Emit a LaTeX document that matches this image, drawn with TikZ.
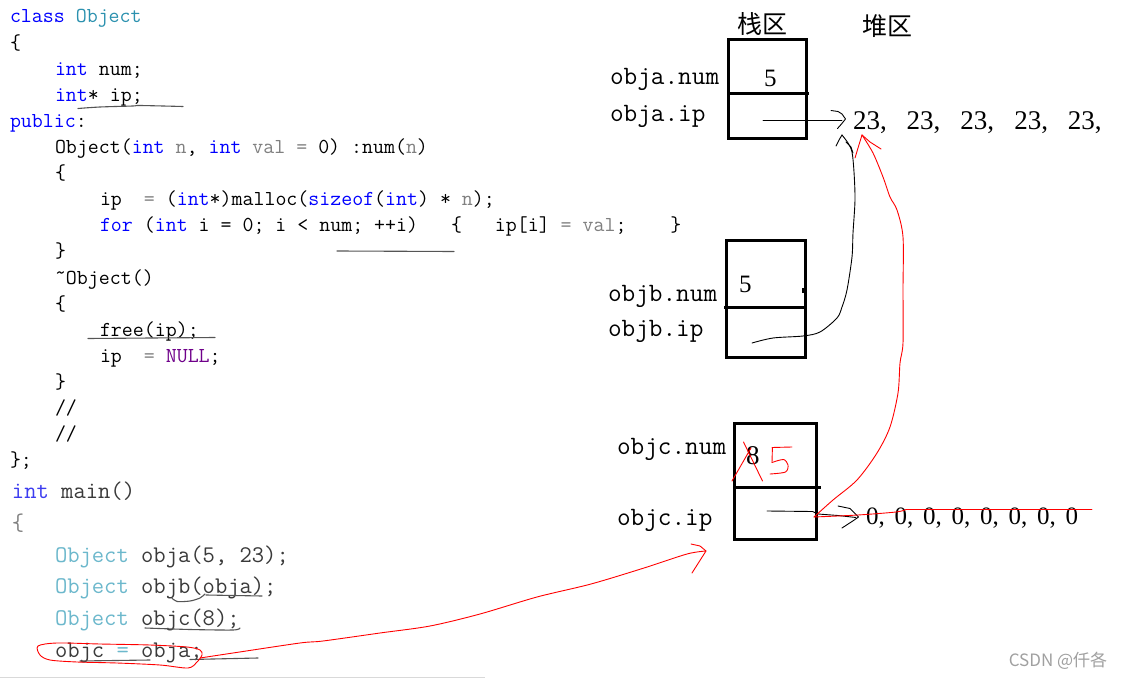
\documentclass[tikz,border=0pt]{standalone}
\usepackage{fontspec}
\newfontfamily\cjk{Noto Sans CJK SC}
\newfontfamily\numfont{Liberation Serif}
\definecolor{ckwc}{HTML}{0000FF}
\definecolor{ctyc}{HTML}{2B91AF}
\definecolor{cpac}{HTML}{808080}
\definecolor{cnullc}{HTML}{6F008A}
\definecolor{mkwc}{HTML}{3C3CF0}
\definecolor{mtyc}{HTML}{6CB8CC}
\definecolor{mtxt}{HTML}{3A3A3A}
\definecolor{pen}{HTML}{555555}
\definecolor{redpen}{HTML}{FF0000}
\definecolor{wm}{HTML}{A0A0A0}
\newcommand\ckw[1]{\textcolor{ckwc}{#1}}
\newcommand\cty[1]{\textcolor{ctyc}{#1}}
\newcommand\cpa[1]{\textcolor{cpac}{#1}}
\newcommand\cnull[1]{\textcolor{cnullc}{#1}}
\tikzset{
  code/.style={anchor=base west, inner sep=0pt, outer sep=0pt, text=black, font=\ttfamily\fontsize{21.3}{24}\selectfont},
  mcode/.style={anchor=base west, inner sep=0pt, outer sep=0pt, text=mtxt, font=\ttfamily\fontsize{23.9}{27}\selectfont},
  lbl/.style={anchor=base west, inner sep=0pt, outer sep=0pt, text=black, font=\ttfamily\fontsize{26.5}{30}\selectfont},
  digit/.style={anchor=base west, inner sep=0pt, outer sep=0pt, text=black, font=\numfont\fontsize{25}{28}\selectfont},
  cell/.style={line width=3pt, draw=black},
  hand/.style={line width=0.9pt, draw=black, line join=round, line cap=round},
  redhand/.style={line width=0.9pt, draw=redpen, line join=round, line cap=round},
  grayline/.style={line width=1.1pt, draw=pen, line cap=round}
}
\begin{document}
\begin{tikzpicture}[x=1pt,y=-1pt]
\useasboundingbox (0,0) rectangle (1130,679);
\fill[white] (0,0) rectangle (1130,679);

% ---- class code ----
\node[code] (l1)  at (10,23)    {\ckw{class}~\cty{Object}};
\node[code] (l2)  at (10,49.1)  {\{};
\node[code] (l3)  at (55,75.2)  {\ckw{int}~num;};
\node[code] (l4)  at (55,101.3) {\ckw{int}*~ip;};
\node[code] (l5)  at (10,127.4) {\ckw{public}:};
\node[code] (l6)  at (55,153.5) {Object(\ckw{int}~\cpa{n},~\ckw{int}~\cpa{val}~\cpa{=}~0)~:num(\cpa{n})};
\node[code] (l7)  at (55,179.6) {\{};
\node[code] (l8)  at (100,205.7){ip~~\cpa{=}~(\ckw{int}*)malloc(\ckw{sizeof}(\ckw{int})~*~\cpa{n});};
\node[code] (l9)  at (100,231.8){\ckw{for}~(\ckw{int}~i~=~0;~i~<~num;~++i)~~~\{~~~ip[i]~\cpa{=}~\cpa{val};~~~~\}};
\node[code] (l10) at (55,257.9) {\}};
\node[code] (l11) at (55,284)   {\raisebox{5pt}{\textasciitilde}Object()};
\node[code] (l12) at (55,310.1) {\{};
\node[code] (l13) at (100,336.2){free(ip);};
\node[code] (l14) at (100,362.3){ip~~\cpa{=}~\cnull{NULL};};
\node[code] (l15) at (55,388.4) {\}};
\node[code] (l16) at (55,414.5) {//};
\node[code] (l17) at (55,440.6) {//};
\node[code] (l18) at (10,466.7) {\};};

% ---- main code ----
\node[mcode] (m1) at (12,498) {\textcolor{mkwc}{int}~main()};
\node[mcode] (m2) at (12,530) {\textcolor{cpac}{\{}};
\node[mcode] (m3) at (55,562) {\textcolor{mtyc}{Object}~obja(5,~23);};
\node[mcode] (m4) at (55,593) {\textcolor{mtyc}{Object}~objb(obja);};
\node[mcode] (m5) at (55,625) {\textcolor{mtyc}{Object}~objc(8);};
\node[mcode] (m6) at (55,657) {objc~\textcolor{mtyc}{=}~obja;};

% hand underlines
\draw[grayline] plot[smooth] coordinates {(78,108.5) (100,107) (133,106) (140,105.5) (183,106.5)};
\draw[grayline] (337,251) -- (454,251.5);
\draw[grayline] (88,338.5) -- (215,337.5);
\draw[grayline] plot[smooth] coordinates {(172,598) (177,601.5) (190,601) (200,598) (205,594)};
\draw[grayline] (206,595) -- (262,596);
\draw[grayline] plot[smooth] coordinates {(145,628) (190,629.5) (233,630) (240,628)};
\draw[grayline] (80,661) -- (150,660) (190,659.5) -- (258,658);

% ---- headers ----
\node[font=\cjk\fontsize{25}{28}\selectfont, inner sep=0pt] (stack) at (762,24) {栈区};
\node[font=\cjk\fontsize{25}{28}\selectfont, inner sep=0pt] (heap) at (887,26) {堆区};

% ---- box A ----
\draw[cell] (728,40) rectangle (806,139);
\draw[cell] (728,94) -- (809,94);
\node[lbl] (aNum) at (610,85) {obja.num};
\node[lbl] (aIp) at (610,122) {obja.ip};
\node[digit] (aFive) at (764,87) {5};
\node[digit, font=\numfont\fontsize{27}{30}\selectfont] (heapA) at (853,130) {23,\hspace{20pt}23,\hspace{20pt}23,\hspace{20pt}23,\hspace{20pt}23,};
\draw[hand] (763,120) -- (842,120);
\draw[hand] (831,110.5) -- (838,111.5) -- (842,114) -- (845.5,119) -- (841.5,124) -- (837.5,128.5);

% ---- box B ----
\draw[cell] (726,241) rectangle (805,357);
\draw[cell] (724,307) -- (805,307);
\fill (801.5,288) rectangle (805,293);
\node[lbl] (bNum) at (608,301) {objb.num};
\node[lbl] (bIp) at (608,336) {objb.ip};
\node[digit] (bFive) at (739,292) {5};
\draw[hand] plot[smooth] coordinates {(752,343) (773,338) (803,336) (820,332) (837,318) (842,307) (847,290) (852,257) (853,233) (855,200) (854,172) (852,152) (848,143) (842,135)};
\draw[hand] (842,135) -- (839,140) -- (836,146);
\draw[hand] (846,142) -- (851,147) -- (853,153);

% ---- box C ----
\draw[cell] (734,423) rectangle (816,539);
\draw[cell] (734,487) -- (821,487);
\node[lbl] (cNum) at (617,454) {objc.num};
\node[lbl] (cIp) at (617,525) {objc.ip};
\node[digit, font=\numfont\fontsize{27}{30}\selectfont] (cEight) at (746,464) {8};
\node[digit] (heapC) at (866,524) {0,\hspace{9.75pt}0,\hspace{9.75pt}0,\hspace{9.75pt}0,\hspace{9.75pt}0,\hspace{9.75pt}0,\hspace{9.75pt}0,\hspace{9.75pt}0};
\draw[hand] (767,511) -- (812.5,511.5) -- (818,514) -- (838,515.5) -- (856,517.5);
\draw[hand] (838,506) -- (850,508.5) -- (858.5,517) -- (853.5,520.5) -- (842,528);

% ---- red annotations ----
\draw[redhand] (732,481) -- (751,448);
\draw[redhand] (743.5,442) -- (762.5,481);
\draw[redhand] (772,447.5) -- (792,447);
\draw[redhand] (772.4,448) -- (772,462.5);
\draw[redhand] plot[smooth] coordinates {(772,462.5) (783.5,459.5) (788,465) (785.5,472) (770,474)};
\draw[redhand] plot[smooth] coordinates {(814,517) (858,515) (896,512) (906,509.5)} -- (1092,509.5);
\draw[redhand] plot[smooth] coordinates {(814,517) (833,500) (857,480) (877,453) (890,427) (898,393) (900,363) (903,343) (903,290) (903,237) (897,210) (890,197) (883,177) (873,153) (862,135)};
\draw[redhand] (862,135) -- (858,148) -- (855,158);
\draw[redhand] (862,135) -- (870,142) -- (881,149);
\draw[redhand] plot[smooth cycle] coordinates {(38,646) (57,643) (100,644) (150,645) (187,647) (200,650) (202,655) (197,662) (188,668) (160,665) (117,663) (77,662) (50,660) (40,655)};
\draw[redhand] plot[smooth] coordinates {(200,658) (233,653) (300,643) (323,641) (380,633) (430,626) (480,614) (537,597) (591,584) (644,568) (687,554) (706,551)};
\draw[redhand] (691,544) -- (700,546) -- (706,551) -- (699,562) -- (692,573);

% ---- page edge and watermark ----
\draw[draw=black!15, line width=0.8pt] (0,677.5) -- (485,677.5);
\node[font=\cjk\fontsize{17}{20}\selectfont, text=wm, inner sep=0pt] (mark) at (1058,661) {CSDN @仟各};
\end{tikzpicture}
\end{document}
